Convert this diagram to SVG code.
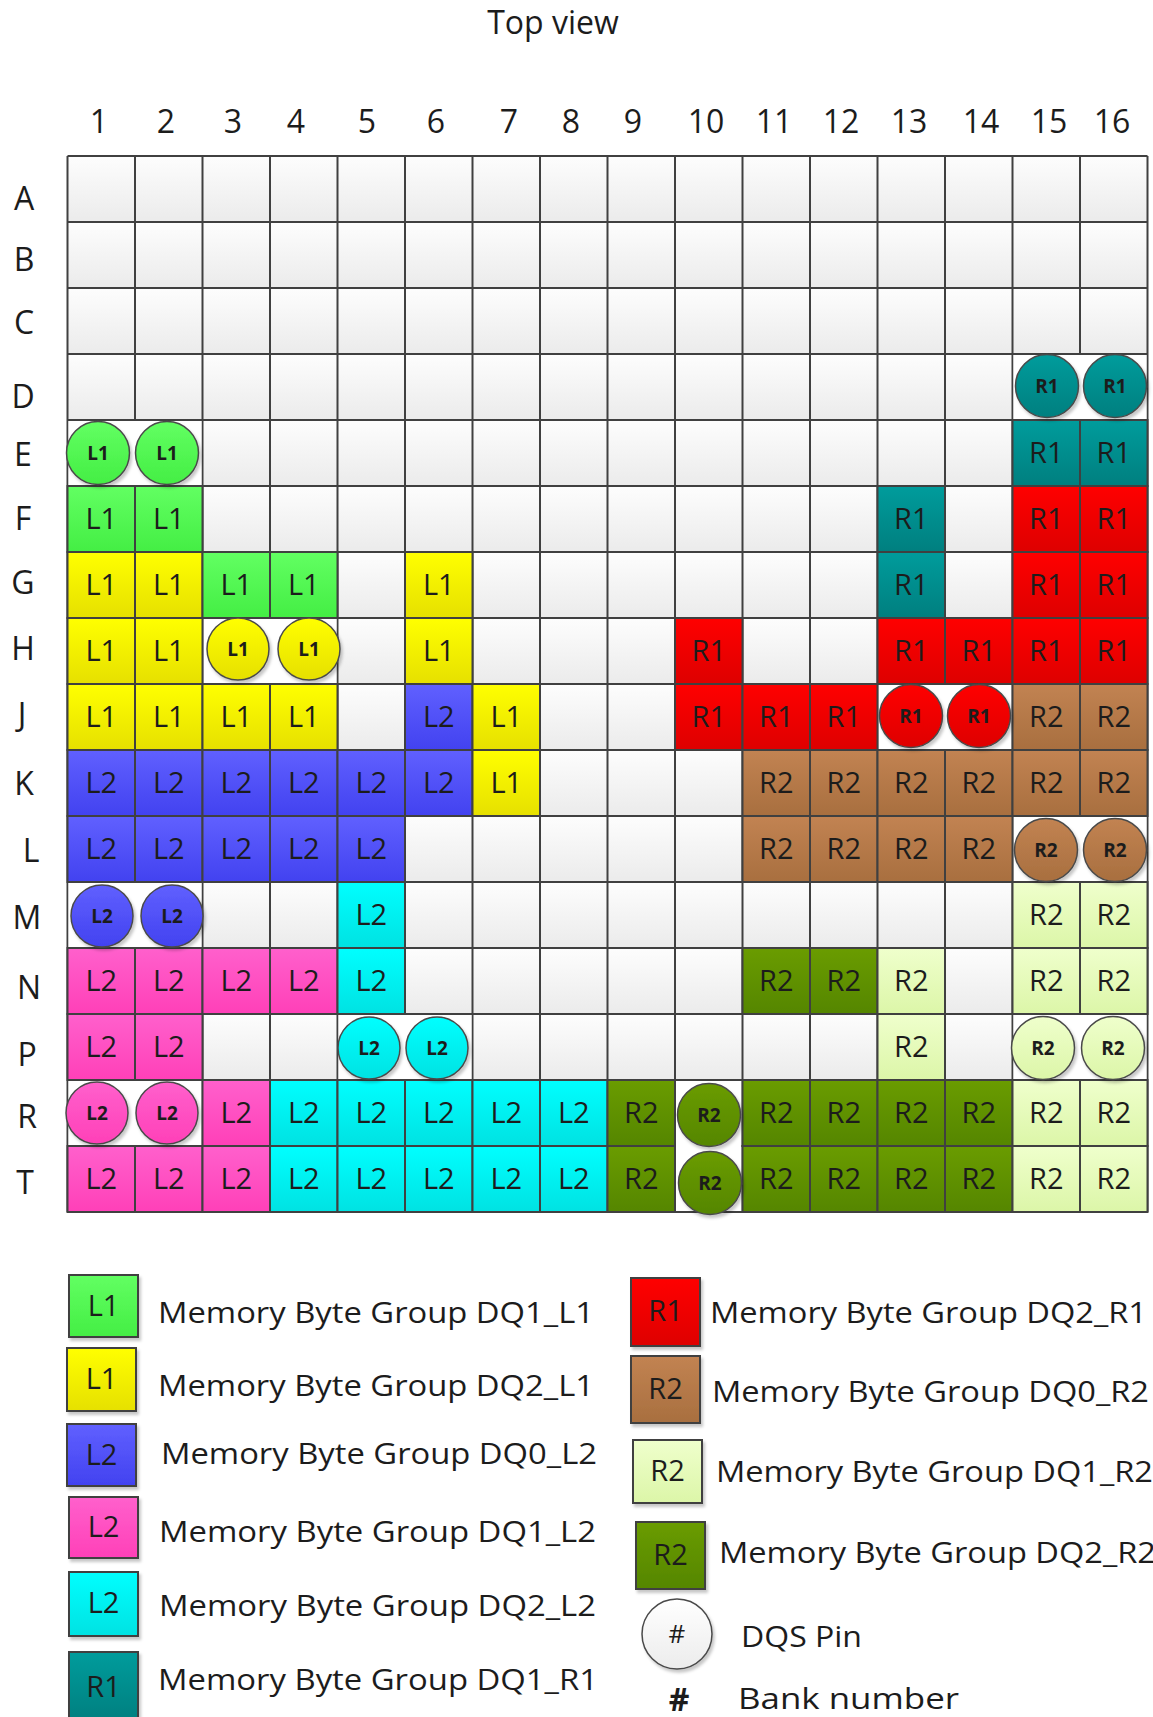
<svg xmlns="http://www.w3.org/2000/svg" width="1153" height="1717" viewBox="0 0 1153 1717">
<defs>
<linearGradient id="gE" x1="0" y1="0" x2="0" y2="1"><stop offset="0" stop-color="#fdfdfd"/><stop offset="1" stop-color="#ebebeb"/></linearGradient>
<linearGradient id="gG" x1="0" y1="0" x2="0" y2="1"><stop offset="0" stop-color="#62ff62"/><stop offset="1" stop-color="#44ee44"/></linearGradient>
<linearGradient id="gY" x1="0" y1="0" x2="0" y2="1"><stop offset="0" stop-color="#ffff00"/><stop offset="1" stop-color="#e6e000"/></linearGradient>
<linearGradient id="gB" x1="0" y1="0" x2="0" y2="1"><stop offset="0" stop-color="#6060ff"/><stop offset="1" stop-color="#4242f0"/></linearGradient>
<linearGradient id="gP" x1="0" y1="0" x2="0" y2="1"><stop offset="0" stop-color="#ff60cc"/><stop offset="1" stop-color="#ff40b8"/></linearGradient>
<linearGradient id="gC" x1="0" y1="0" x2="0" y2="1"><stop offset="0" stop-color="#00ffff"/><stop offset="1" stop-color="#00e2e2"/></linearGradient>
<linearGradient id="gT" x1="0" y1="0" x2="0" y2="1"><stop offset="0" stop-color="#009c9c"/><stop offset="1" stop-color="#007f7f"/></linearGradient>
<linearGradient id="gR" x1="0" y1="0" x2="0" y2="1"><stop offset="0" stop-color="#ff0000"/><stop offset="1" stop-color="#de0000"/></linearGradient>
<linearGradient id="gN" x1="0" y1="0" x2="0" y2="1"><stop offset="0" stop-color="#c28352"/><stop offset="1" stop-color="#a86f3f"/></linearGradient>
<linearGradient id="gL" x1="0" y1="0" x2="0" y2="1"><stop offset="0" stop-color="#efffcc"/><stop offset="1" stop-color="#dcf6a8"/></linearGradient>
<linearGradient id="gD" x1="0" y1="0" x2="0" y2="1"><stop offset="0" stop-color="#6a9c00"/><stop offset="1" stop-color="#558600"/></linearGradient>
<linearGradient id="gW" x1="0" y1="0" x2="0" y2="1"><stop offset="0" stop-color="#ffffff"/><stop offset="1" stop-color="#ececec"/></linearGradient>
<pattern id="grid" patternUnits="userSpaceOnUse" x="67.5" y="156" width="67.5" height="66"><rect width="67.5" height="66" fill="url(#gE)"/></pattern>
<filter id="sh" x="-20%" y="-20%" width="150%" height="150%"><feDropShadow dx="2" dy="3" stdDeviation="1.5" flood-color="#000" flood-opacity="0.22"/></filter>
</defs>
<style>
text { font-family: "Open Sans", "Liberation Sans", sans-serif; fill: #1c1c1c; }
.hdr { font-size: 32px; text-anchor: middle; }
.l { font-size: 29px; text-anchor: middle; }
.d { font-size: 19px; font-weight: bold; text-anchor: middle; }
.leg { font-size: 30px; }
.c { stroke: #404040; stroke-width: 2; }
.pin { stroke: #4a4a4a; stroke-width: 1.5; filter: url(#sh); }
.lb { stroke: #404040; stroke-width: 2; filter: url(#sh); }
.G { fill: url(#gG); } .Y { fill: url(#gY); } .B { fill: url(#gB); } .P { fill: url(#gP); } .C { fill: url(#gC); }
.T { fill: url(#gT); } .R { fill: url(#gR); } .N { fill: url(#gN); } .L { fill: url(#gL); } .D { fill: url(#gD); } .W { fill: url(#gW); }
.gl { fill: none; stroke: #404040; stroke-width: 2; }
</style>
<rect width="1153" height="1717" fill="#ffffff"/>
<text class="hdr" x="553" y="34">Top view</text>
<g id="col-labels">
<text class="hdr" x="99" y="133">1</text><text class="hdr" x="166" y="133">2</text><text class="hdr" x="233" y="133">3</text><text class="hdr" x="296" y="133">4</text>
<text class="hdr" x="367" y="133">5</text><text class="hdr" x="436" y="133">6</text><text class="hdr" x="509" y="133">7</text><text class="hdr" x="571" y="133">8</text>
<text class="hdr" x="633" y="133">9</text><text class="hdr" x="706" y="133">10</text><text class="hdr" x="774" y="133">11</text><text class="hdr" x="841" y="133">12</text>
<text class="hdr" x="909" y="133">13</text><text class="hdr" x="981" y="133">14</text><text class="hdr" x="1049" y="133">15</text><text class="hdr" x="1112" y="133">16</text>
</g>
<g id="row-labels">
<text class="hdr" x="24" y="210">A</text><text class="hdr" x="24" y="271">B</text><text class="hdr" x="24" y="334">C</text><text class="hdr" x="23" y="408">D</text>
<text class="hdr" x="23" y="466">E</text><text class="hdr" x="23" y="530">F</text><text class="hdr" x="23" y="594">G</text><text class="hdr" x="23" y="660">H</text>
<text class="hdr" x="22" y="726">J</text><text class="hdr" x="24" y="795">K</text><text class="hdr" x="31" y="862">L</text><text class="hdr" x="27" y="929">M</text>
<text class="hdr" x="29" y="999">N</text><text class="hdr" x="27" y="1066">P</text><text class="hdr" x="27" y="1128">R</text><text class="hdr" x="25" y="1194">T</text>
</g>
<g id="board">
<rect x="67.5" y="156" width="1080" height="1056" fill="url(#grid)"/>
<path class="gl" d="M67.5 156V1212M135 156V1212M202.5 156V1212M270 156V1212M337.5 156V1212M405 156V1212M472.5 156V1212M540 156V1212M607.5 156V1212M675 156V1212M742.5 156V1212M810 156V1212M877.5 156V1212M945 156V1212M1012.5 156V1212M1080 156V1212M1147.5 156V1212M67.5 156H1147.5M67.5 222H1147.5M67.5 288H1147.5M67.5 354H1147.5M67.5 420H1147.5M67.5 486H1147.5M67.5 552H1147.5M67.5 618H1147.5M67.5 684H1147.5M67.5 750H1147.5M67.5 816H1147.5M67.5 882H1147.5M67.5 948H1147.5M67.5 1014H1147.5M67.5 1080H1147.5M67.5 1146H1147.5M67.5 1212H1147.5"/>
<g fill="#ffffff">
<rect x="1013.5" y="355" width="133" height="64"/><rect x="68.5" y="421" width="133" height="64"/><rect x="203.5" y="619" width="133" height="64"/>
<rect x="878.5" y="685" width="133" height="64"/><rect x="1013.5" y="817" width="133" height="64"/><rect x="68.5" y="883" width="133" height="64"/>
<rect x="338.5" y="1015" width="133" height="64"/><rect x="1013.5" y="1015" width="133" height="64"/><rect x="68.5" y="1081" width="133" height="64"/>
<rect x="676" y="1081" width="65.5" height="130"/>
</g>
</g>
<g id="pins">
<g id="E15" transform="translate(1012.5 420)"><rect class="c T" width="67.5" height="66"/><text class="l" x="33.75" y="43">R1</text></g>
<g id="E16" transform="translate(1080 420)"><rect class="c T" width="67.5" height="66"/><text class="l" x="33.75" y="43">R1</text></g>
<g id="F1" transform="translate(67.5 486)"><rect class="c G" width="67.5" height="66"/><text class="l" x="33.75" y="43">L1</text></g>
<g id="F2" transform="translate(135 486)"><rect class="c G" width="67.5" height="66"/><text class="l" x="33.75" y="43">L1</text></g>
<g id="F13" transform="translate(877.5 486)"><rect class="c T" width="67.5" height="66"/><text class="l" x="33.75" y="43">R1</text></g>
<g id="F15" transform="translate(1012.5 486)"><rect class="c R" width="67.5" height="66"/><text class="l" x="33.75" y="43">R1</text></g>
<g id="F16" transform="translate(1080 486)"><rect class="c R" width="67.5" height="66"/><text class="l" x="33.75" y="43">R1</text></g>
<g id="G1" transform="translate(67.5 552)"><rect class="c Y" width="67.5" height="66"/><text class="l" x="33.75" y="43">L1</text></g>
<g id="G2" transform="translate(135 552)"><rect class="c Y" width="67.5" height="66"/><text class="l" x="33.75" y="43">L1</text></g>
<g id="G3" transform="translate(202.5 552)"><rect class="c G" width="67.5" height="66"/><text class="l" x="33.75" y="43">L1</text></g>
<g id="G4" transform="translate(270 552)"><rect class="c G" width="67.5" height="66"/><text class="l" x="33.75" y="43">L1</text></g>
<g id="G6" transform="translate(405 552)"><rect class="c Y" width="67.5" height="66"/><text class="l" x="33.75" y="43">L1</text></g>
<g id="G13" transform="translate(877.5 552)"><rect class="c T" width="67.5" height="66"/><text class="l" x="33.75" y="43">R1</text></g>
<g id="G15" transform="translate(1012.5 552)"><rect class="c R" width="67.5" height="66"/><text class="l" x="33.75" y="43">R1</text></g>
<g id="G16" transform="translate(1080 552)"><rect class="c R" width="67.5" height="66"/><text class="l" x="33.75" y="43">R1</text></g>
<g id="H1" transform="translate(67.5 618)"><rect class="c Y" width="67.5" height="66"/><text class="l" x="33.75" y="43">L1</text></g>
<g id="H2" transform="translate(135 618)"><rect class="c Y" width="67.5" height="66"/><text class="l" x="33.75" y="43">L1</text></g>
<g id="H6" transform="translate(405 618)"><rect class="c Y" width="67.5" height="66"/><text class="l" x="33.75" y="43">L1</text></g>
<g id="H10" transform="translate(675 618)"><rect class="c R" width="67.5" height="66"/><text class="l" x="33.75" y="43">R1</text></g>
<g id="H13" transform="translate(877.5 618)"><rect class="c R" width="67.5" height="66"/><text class="l" x="33.75" y="43">R1</text></g>
<g id="H14" transform="translate(945 618)"><rect class="c R" width="67.5" height="66"/><text class="l" x="33.75" y="43">R1</text></g>
<g id="H15" transform="translate(1012.5 618)"><rect class="c R" width="67.5" height="66"/><text class="l" x="33.75" y="43">R1</text></g>
<g id="H16" transform="translate(1080 618)"><rect class="c R" width="67.5" height="66"/><text class="l" x="33.75" y="43">R1</text></g>
<g id="J1" transform="translate(67.5 684)"><rect class="c Y" width="67.5" height="66"/><text class="l" x="33.75" y="43">L1</text></g>
<g id="J2" transform="translate(135 684)"><rect class="c Y" width="67.5" height="66"/><text class="l" x="33.75" y="43">L1</text></g>
<g id="J3" transform="translate(202.5 684)"><rect class="c Y" width="67.5" height="66"/><text class="l" x="33.75" y="43">L1</text></g>
<g id="J4" transform="translate(270 684)"><rect class="c Y" width="67.5" height="66"/><text class="l" x="33.75" y="43">L1</text></g>
<g id="J6" transform="translate(405 684)"><rect class="c B" width="67.5" height="66"/><text class="l" x="33.75" y="43">L2</text></g>
<g id="J7" transform="translate(472.5 684)"><rect class="c Y" width="67.5" height="66"/><text class="l" x="33.75" y="43">L1</text></g>
<g id="J10" transform="translate(675 684)"><rect class="c R" width="67.5" height="66"/><text class="l" x="33.75" y="43">R1</text></g>
<g id="J11" transform="translate(742.5 684)"><rect class="c R" width="67.5" height="66"/><text class="l" x="33.75" y="43">R1</text></g>
<g id="J12" transform="translate(810 684)"><rect class="c R" width="67.5" height="66"/><text class="l" x="33.75" y="43">R1</text></g>
<g id="J15" transform="translate(1012.5 684)"><rect class="c N" width="67.5" height="66"/><text class="l" x="33.75" y="43">R2</text></g>
<g id="J16" transform="translate(1080 684)"><rect class="c N" width="67.5" height="66"/><text class="l" x="33.75" y="43">R2</text></g>
<g id="K1" transform="translate(67.5 750)"><rect class="c B" width="67.5" height="66"/><text class="l" x="33.75" y="43">L2</text></g>
<g id="K2" transform="translate(135 750)"><rect class="c B" width="67.5" height="66"/><text class="l" x="33.75" y="43">L2</text></g>
<g id="K3" transform="translate(202.5 750)"><rect class="c B" width="67.5" height="66"/><text class="l" x="33.75" y="43">L2</text></g>
<g id="K4" transform="translate(270 750)"><rect class="c B" width="67.5" height="66"/><text class="l" x="33.75" y="43">L2</text></g>
<g id="K5" transform="translate(337.5 750)"><rect class="c B" width="67.5" height="66"/><text class="l" x="33.75" y="43">L2</text></g>
<g id="K6" transform="translate(405 750)"><rect class="c B" width="67.5" height="66"/><text class="l" x="33.75" y="43">L2</text></g>
<g id="K7" transform="translate(472.5 750)"><rect class="c Y" width="67.5" height="66"/><text class="l" x="33.75" y="43">L1</text></g>
<g id="K11" transform="translate(742.5 750)"><rect class="c N" width="67.5" height="66"/><text class="l" x="33.75" y="43">R2</text></g>
<g id="K12" transform="translate(810 750)"><rect class="c N" width="67.5" height="66"/><text class="l" x="33.75" y="43">R2</text></g>
<g id="K13" transform="translate(877.5 750)"><rect class="c N" width="67.5" height="66"/><text class="l" x="33.75" y="43">R2</text></g>
<g id="K14" transform="translate(945 750)"><rect class="c N" width="67.5" height="66"/><text class="l" x="33.75" y="43">R2</text></g>
<g id="K15" transform="translate(1012.5 750)"><rect class="c N" width="67.5" height="66"/><text class="l" x="33.75" y="43">R2</text></g>
<g id="K16" transform="translate(1080 750)"><rect class="c N" width="67.5" height="66"/><text class="l" x="33.75" y="43">R2</text></g>
<g id="L1" transform="translate(67.5 816)"><rect class="c B" width="67.5" height="66"/><text class="l" x="33.75" y="43">L2</text></g>
<g id="L2" transform="translate(135 816)"><rect class="c B" width="67.5" height="66"/><text class="l" x="33.75" y="43">L2</text></g>
<g id="L3" transform="translate(202.5 816)"><rect class="c B" width="67.5" height="66"/><text class="l" x="33.75" y="43">L2</text></g>
<g id="L4" transform="translate(270 816)"><rect class="c B" width="67.5" height="66"/><text class="l" x="33.75" y="43">L2</text></g>
<g id="L5" transform="translate(337.5 816)"><rect class="c B" width="67.5" height="66"/><text class="l" x="33.75" y="43">L2</text></g>
<g id="L11" transform="translate(742.5 816)"><rect class="c N" width="67.5" height="66"/><text class="l" x="33.75" y="43">R2</text></g>
<g id="L12" transform="translate(810 816)"><rect class="c N" width="67.5" height="66"/><text class="l" x="33.75" y="43">R2</text></g>
<g id="L13" transform="translate(877.5 816)"><rect class="c N" width="67.5" height="66"/><text class="l" x="33.75" y="43">R2</text></g>
<g id="L14" transform="translate(945 816)"><rect class="c N" width="67.5" height="66"/><text class="l" x="33.75" y="43">R2</text></g>
<g id="M5" transform="translate(337.5 882)"><rect class="c C" width="67.5" height="66"/><text class="l" x="33.75" y="43">L2</text></g>
<g id="M15" transform="translate(1012.5 882)"><rect class="c L" width="67.5" height="66"/><text class="l" x="33.75" y="43">R2</text></g>
<g id="M16" transform="translate(1080 882)"><rect class="c L" width="67.5" height="66"/><text class="l" x="33.75" y="43">R2</text></g>
<g id="N1" transform="translate(67.5 948)"><rect class="c P" width="67.5" height="66"/><text class="l" x="33.75" y="43">L2</text></g>
<g id="N2" transform="translate(135 948)"><rect class="c P" width="67.5" height="66"/><text class="l" x="33.75" y="43">L2</text></g>
<g id="N3" transform="translate(202.5 948)"><rect class="c P" width="67.5" height="66"/><text class="l" x="33.75" y="43">L2</text></g>
<g id="N4" transform="translate(270 948)"><rect class="c P" width="67.5" height="66"/><text class="l" x="33.75" y="43">L2</text></g>
<g id="N5" transform="translate(337.5 948)"><rect class="c C" width="67.5" height="66"/><text class="l" x="33.75" y="43">L2</text></g>
<g id="N11" transform="translate(742.5 948)"><rect class="c D" width="67.5" height="66"/><text class="l" x="33.75" y="43">R2</text></g>
<g id="N12" transform="translate(810 948)"><rect class="c D" width="67.5" height="66"/><text class="l" x="33.75" y="43">R2</text></g>
<g id="N13" transform="translate(877.5 948)"><rect class="c L" width="67.5" height="66"/><text class="l" x="33.75" y="43">R2</text></g>
<g id="N15" transform="translate(1012.5 948)"><rect class="c L" width="67.5" height="66"/><text class="l" x="33.75" y="43">R2</text></g>
<g id="N16" transform="translate(1080 948)"><rect class="c L" width="67.5" height="66"/><text class="l" x="33.75" y="43">R2</text></g>
<g id="P1" transform="translate(67.5 1014)"><rect class="c P" width="67.5" height="66"/><text class="l" x="33.75" y="43">L2</text></g>
<g id="P2" transform="translate(135 1014)"><rect class="c P" width="67.5" height="66"/><text class="l" x="33.75" y="43">L2</text></g>
<g id="P13" transform="translate(877.5 1014)"><rect class="c L" width="67.5" height="66"/><text class="l" x="33.75" y="43">R2</text></g>
<g id="R3" transform="translate(202.5 1080)"><rect class="c P" width="67.5" height="66"/><text class="l" x="33.75" y="43">L2</text></g>
<g id="R4" transform="translate(270 1080)"><rect class="c C" width="67.5" height="66"/><text class="l" x="33.75" y="43">L2</text></g>
<g id="R5" transform="translate(337.5 1080)"><rect class="c C" width="67.5" height="66"/><text class="l" x="33.75" y="43">L2</text></g>
<g id="R6" transform="translate(405 1080)"><rect class="c C" width="67.5" height="66"/><text class="l" x="33.75" y="43">L2</text></g>
<g id="R7" transform="translate(472.5 1080)"><rect class="c C" width="67.5" height="66"/><text class="l" x="33.75" y="43">L2</text></g>
<g id="R8" transform="translate(540 1080)"><rect class="c C" width="67.5" height="66"/><text class="l" x="33.75" y="43">L2</text></g>
<g id="R9" transform="translate(607.5 1080)"><rect class="c D" width="67.5" height="66"/><text class="l" x="33.75" y="43">R2</text></g>
<g id="R11" transform="translate(742.5 1080)"><rect class="c D" width="67.5" height="66"/><text class="l" x="33.75" y="43">R2</text></g>
<g id="R12" transform="translate(810 1080)"><rect class="c D" width="67.5" height="66"/><text class="l" x="33.75" y="43">R2</text></g>
<g id="R13" transform="translate(877.5 1080)"><rect class="c D" width="67.5" height="66"/><text class="l" x="33.75" y="43">R2</text></g>
<g id="R14" transform="translate(945 1080)"><rect class="c D" width="67.5" height="66"/><text class="l" x="33.75" y="43">R2</text></g>
<g id="R15" transform="translate(1012.5 1080)"><rect class="c L" width="67.5" height="66"/><text class="l" x="33.75" y="43">R2</text></g>
<g id="R16" transform="translate(1080 1080)"><rect class="c L" width="67.5" height="66"/><text class="l" x="33.75" y="43">R2</text></g>
<g id="T1" transform="translate(67.5 1146)"><rect class="c P" width="67.5" height="66"/><text class="l" x="33.75" y="43">L2</text></g>
<g id="T2" transform="translate(135 1146)"><rect class="c P" width="67.5" height="66"/><text class="l" x="33.75" y="43">L2</text></g>
<g id="T3" transform="translate(202.5 1146)"><rect class="c P" width="67.5" height="66"/><text class="l" x="33.75" y="43">L2</text></g>
<g id="T4" transform="translate(270 1146)"><rect class="c C" width="67.5" height="66"/><text class="l" x="33.75" y="43">L2</text></g>
<g id="T5" transform="translate(337.5 1146)"><rect class="c C" width="67.5" height="66"/><text class="l" x="33.75" y="43">L2</text></g>
<g id="T6" transform="translate(405 1146)"><rect class="c C" width="67.5" height="66"/><text class="l" x="33.75" y="43">L2</text></g>
<g id="T7" transform="translate(472.5 1146)"><rect class="c C" width="67.5" height="66"/><text class="l" x="33.75" y="43">L2</text></g>
<g id="T8" transform="translate(540 1146)"><rect class="c C" width="67.5" height="66"/><text class="l" x="33.75" y="43">L2</text></g>
<g id="T9" transform="translate(607.5 1146)"><rect class="c D" width="67.5" height="66"/><text class="l" x="33.75" y="43">R2</text></g>
<g id="T11" transform="translate(742.5 1146)"><rect class="c D" width="67.5" height="66"/><text class="l" x="33.75" y="43">R2</text></g>
<g id="T12" transform="translate(810 1146)"><rect class="c D" width="67.5" height="66"/><text class="l" x="33.75" y="43">R2</text></g>
<g id="T13" transform="translate(877.5 1146)"><rect class="c D" width="67.5" height="66"/><text class="l" x="33.75" y="43">R2</text></g>
<g id="T14" transform="translate(945 1146)"><rect class="c D" width="67.5" height="66"/><text class="l" x="33.75" y="43">R2</text></g>
<g id="T15" transform="translate(1012.5 1146)"><rect class="c L" width="67.5" height="66"/><text class="l" x="33.75" y="43">R2</text></g>
<g id="T16" transform="translate(1080 1146)"><rect class="c L" width="67.5" height="66"/><text class="l" x="33.75" y="43">R2</text></g>
</g>
<g id="dqs-pins">
<g id="D15" transform="translate(1047 386)"><circle class="pin T" r="31.5"/><text class="d" y="7">R1</text></g>
<g id="D16" transform="translate(1115 386)"><circle class="pin T" r="31.5"/><text class="d" y="7">R1</text></g>
<g id="E1" transform="translate(98 453)"><circle class="pin G" r="31.5"/><text class="d" y="7">L1</text></g>
<g id="E2" transform="translate(167 453)"><circle class="pin G" r="31.5"/><text class="d" y="7">L1</text></g>
<g id="H3" transform="translate(238 649)"><circle class="pin Y" r="31"/><text class="d" y="7">L1</text></g>
<g id="H4" transform="translate(309 649)"><circle class="pin Y" r="31"/><text class="d" y="7">L1</text></g>
<g id="J13" transform="translate(911 716)"><circle class="pin R" r="31.5"/><text class="d" y="7">R1</text></g>
<g id="J14" transform="translate(979 716)"><circle class="pin R" r="31.5"/><text class="d" y="7">R1</text></g>
<g id="L15" transform="translate(1046 850)"><circle class="pin N" r="31.5"/><text class="d" y="7">R2</text></g>
<g id="L16" transform="translate(1115 850)"><circle class="pin N" r="31.5"/><text class="d" y="7">R2</text></g>
<g id="M1" transform="translate(102 916)"><circle class="pin B" r="31"/><text class="d" y="7">L2</text></g>
<g id="M2" transform="translate(172 916)"><circle class="pin B" r="31"/><text class="d" y="7">L2</text></g>
<g id="P5" transform="translate(369 1048)"><circle class="pin C" r="31"/><text class="d" y="7">L2</text></g>
<g id="P6" transform="translate(437 1048)"><circle class="pin C" r="31"/><text class="d" y="7">L2</text></g>
<g id="P15" transform="translate(1043 1048)"><circle class="pin L" r="31.5"/><text class="d" y="7">R2</text></g>
<g id="P16" transform="translate(1113 1048)"><circle class="pin L" r="31.5"/><text class="d" y="7">R2</text></g>
<g id="R1" transform="translate(97 1113)"><circle class="pin P" r="31"/><text class="d" y="7">L2</text></g>
<g id="R2" transform="translate(167 1113)"><circle class="pin P" r="31"/><text class="d" y="7">L2</text></g>
<g id="R10" transform="translate(709 1115)"><circle class="pin D" r="31.5"/><text class="d" y="7">R2</text></g>
<g id="T10" transform="translate(710 1183)"><circle class="pin D" r="31.5"/><text class="d" y="7">R2</text></g>
</g>
<g id="legend">
<g id="leg-dq1-l1"><rect class="lb G" x="69" y="1275" width="69" height="62"/><text class="l" x="103.5" y="1316">L1</text><text class="leg" x="158" y="1323" textLength="436" lengthAdjust="spacingAndGlyphs">Memory Byte Group DQ1_L1</text></g>
<g id="leg-dq2-l1"><rect class="lb Y" x="67" y="1348" width="69" height="63"/><text class="l" x="101.5" y="1389">L1</text><text class="leg" x="158" y="1396" textLength="436" lengthAdjust="spacingAndGlyphs">Memory Byte Group DQ2_L1</text></g>
<g id="leg-dq0-l2"><rect class="lb B" x="67" y="1424" width="69" height="62"/><text class="l" x="101.5" y="1465">L2</text><text class="leg" x="161" y="1464" textLength="436" lengthAdjust="spacingAndGlyphs">Memory Byte Group DQ0_L2</text></g>
<g id="leg-dq1-l2"><rect class="lb P" x="69" y="1497" width="69" height="61"/><text class="l" x="103.5" y="1537">L2</text><text class="leg" x="159" y="1542" textLength="437" lengthAdjust="spacingAndGlyphs">Memory Byte Group DQ1_L2</text></g>
<g id="leg-dq2-l2"><rect class="lb C" x="69" y="1572" width="69" height="64"/><text class="l" x="103.5" y="1613">L2</text><text class="leg" x="159" y="1616" textLength="437" lengthAdjust="spacingAndGlyphs">Memory Byte Group DQ2_L2</text></g>
<g id="leg-dq1-r1"><rect class="lb T" x="69" y="1652" width="69" height="70"/><text class="l" x="103.5" y="1697">R1</text><text class="leg" x="158" y="1690" textLength="440" lengthAdjust="spacingAndGlyphs">Memory Byte Group DQ1_R1</text></g>
<g id="leg-dq2-r1"><rect class="lb R" x="631" y="1278" width="69" height="68"/><text class="l" x="665.5" y="1321">R1</text><text class="leg" x="710" y="1323" textLength="437" lengthAdjust="spacingAndGlyphs">Memory Byte Group DQ2_R1</text></g>
<g id="leg-dq0-r2"><rect class="lb N" x="631" y="1356" width="69" height="67"/><text class="l" x="665.5" y="1399">R2</text><text class="leg" x="712" y="1402" textLength="437" lengthAdjust="spacingAndGlyphs">Memory Byte Group DQ0_R2</text></g>
<g id="leg-dq1-r2"><rect class="lb L" x="633" y="1440" width="69" height="63"/><text class="l" x="667.5" y="1481">R2</text><text class="leg" x="716" y="1482" textLength="437" lengthAdjust="spacingAndGlyphs">Memory Byte Group DQ1_R2</text></g>
<g id="leg-dq2-r2"><rect class="lb D" x="636" y="1522" width="69" height="67"/><text class="l" x="670.5" y="1565">R2</text><text class="leg" x="719" y="1563" textLength="437" lengthAdjust="spacingAndGlyphs">Memory Byte Group DQ2_R2</text></g>
<g id="leg-dqs"><circle class="pin W" cx="677" cy="1634" r="35"/><text x="677" y="1643" style="font-size:26px;text-anchor:middle">#</text><text class="leg" x="741" y="1647" textLength="121" lengthAdjust="spacingAndGlyphs">DQS Pin</text></g>
<g id="leg-bank"><text x="679" y="1711" style="font-size:32px;font-weight:bold;text-anchor:middle">#</text><text class="leg" x="738" y="1709" textLength="221" lengthAdjust="spacingAndGlyphs">Bank number</text></g>
</g>
</svg>
